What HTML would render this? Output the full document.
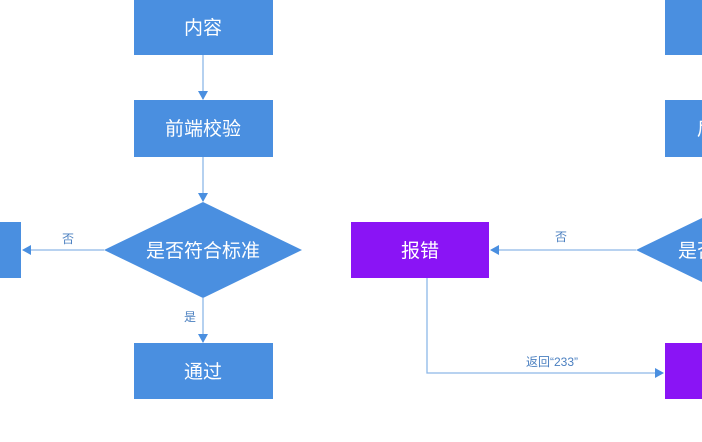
<!DOCTYPE html>
<html><head><meta charset="utf-8"><style>
html,body{margin:0;padding:0;background:#fff;width:702px;height:442px;overflow:hidden}
svg text{font-family:"Liberation Sans","Noto Sans CJK SC",sans-serif}
</style></head><body>
<svg width="702" height="442" viewBox="0 0 702 442" xmlns="http://www.w3.org/2000/svg">
<defs>
<marker id="a" markerWidth="10" markerHeight="10" refX="8" refY="5" orient="auto" markerUnits="userSpaceOnUse">
<path d="M0,0 L9,5 L0,10 Z" fill="#4a8fe0"/></marker>
</defs>
<g stroke="#8db8e8" stroke-width="1.3" fill="none">
<line x1="203" y1="55" x2="203" y2="99" marker-end="url(#a)"/>
<line x1="203" y1="157" x2="203" y2="201" marker-end="url(#a)"/>
<line x1="203" y1="298" x2="203" y2="342" marker-end="url(#a)"/>
<line x1="104" y1="250" x2="23" y2="250" marker-end="url(#a)"/>
<line x1="636" y1="250" x2="491" y2="250" marker-end="url(#a)"/>
<polyline points="427,278 427,373 663,373" marker-end="url(#a)"/>
</g>
<g fill="#4a8fe0">
<rect x="134" y="0" width="139" height="55"/>
<rect x="134" y="100" width="139" height="57"/>
<rect x="134" y="343" width="139" height="56"/>
<rect x="0" y="222" width="21" height="56"/>
<rect x="665" y="0" width="139" height="55"/>
<rect x="665" y="100" width="139" height="57"/>
<polygon points="203,202 302,250 203,298 104,250"/>
<polygon points="735,202 834,250 735,298 636,250"/>
</g>
<g fill="#8a14f5">
<rect x="351" y="222" width="138" height="56"/>
<rect x="665" y="343" width="139" height="56"/>
</g>
<g fill="#fff" font-size="19" text-anchor="middle">
<text x="203" y="34">内容</text>
<text x="203" y="135">前端校验</text>
<text x="203" y="257">是否符合标准</text>
<text x="203" y="378">通过</text>
<text x="420" y="257">报错</text>
<text x="735" y="135">后端校验</text>
<text x="735" y="257">是否符合标准</text>
</g>
<g fill="#4a7fc0" font-size="12" text-anchor="middle">
<text x="68" y="243">否</text>
<text x="190" y="321">是</text>
<text x="561" y="241">否</text>
<text x="552" y="366">返回“233”</text>
</g>
</svg>
</body></html>
